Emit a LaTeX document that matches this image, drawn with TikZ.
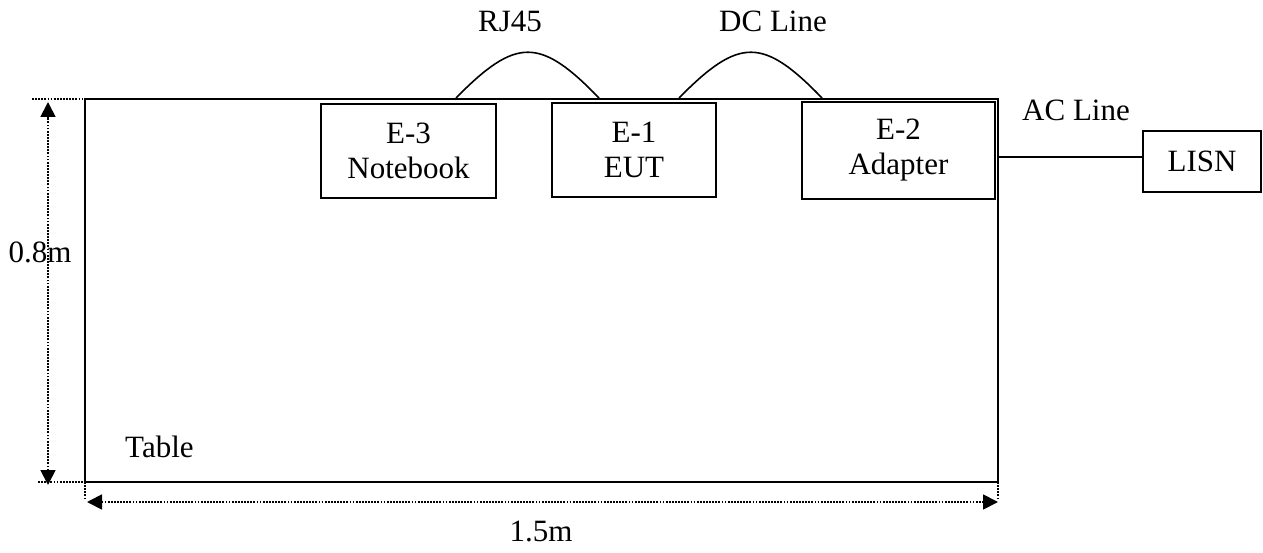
\documentclass[tikz,border=0pt]{standalone}
\usepackage{fontspec}
\setmainfont{Liberation Serif}
\usetikzlibrary{arrows.meta}

\begin{document}
\begin{tikzpicture}[x=1pt, y=-1pt,
    every node/.style = {font=\fontsize{31}{35}\selectfont, inner sep=0pt},
    unit/.style = {draw, line width=2pt, align=center},
    cable/.style = {line width=1.6pt},
    dim/.style = {line width=1.8pt, dash pattern=on 1.8pt off 1.3pt},
    dimarrow/.style = {dim, {Triangle[length=15pt,width=15pt]}-{Triangle[length=15pt,width=15pt]}}]
    \useasboundingbox (0,0) rectangle (1263,553);
    \coordinate (tl) at (85,99);
    \coordinate (br) at (998,482);
    \draw[line width=2pt] (tl) rectangle (br);
    \node at (125,457) [anchor=base west] {Table};
    \node (notebook) at (408.5,151) [unit, minimum width=175pt, minimum height=94pt] {E-3\\Notebook};
    \node (eut) at (634,150) [unit, minimum width=164pt, minimum height=94pt] {E-1\\EUT};
    \node (adapter) at (898.5,150.5) [unit, minimum width=193pt, minimum height=97pt] {E-2\\Adapter};
    \node (lisn) at (1202,161.5) [unit, minimum width=118pt, minimum height=61pt] {LISN};
    \coordinate (rj a) at (456,98);
    \coordinate (rj b) at (599,98);
    \coordinate (dc a) at (679,98);
    \coordinate (dc b) at (822,98);
    \coordinate (ac) at (998,157);
    \draw[cable] (rj a) .. controls (516,37) and (540,37) .. (rj b);
    \draw[cable] (dc a) .. controls (739,37) and (763,37) .. (dc b);
    \draw[cable] (ac) -- (ac -| lisn.west);
    \node at (510,32) [anchor=base] {RJ45};
    \node at (773,32) [anchor=base] {DC Line};
    \node at (1076,121) [anchor=base] {AC Line};
    \coordinate (h top) at (48,102);
    \coordinate (h bot) at (48,485);
    \coordinate (w left) at (87,502);
    \coordinate (w right) at (998,502);
    \draw[dim] (32,99) -- (100,99);
    \draw[dim] (38,482) -- (107,482);
    \draw[dim] (br -| tl) -- ++(0,18);
    \draw[dim] (br) -- ++(0,18);
    \draw[dimarrow] (h bot) -- (h top);
    \draw[dimarrow] (w left) -- (w right);
    \node at (40,263) [anchor=base] {0.8m};
    \node at (541,541) [anchor=base] {1.5m};
\end{tikzpicture}
\end{document}
